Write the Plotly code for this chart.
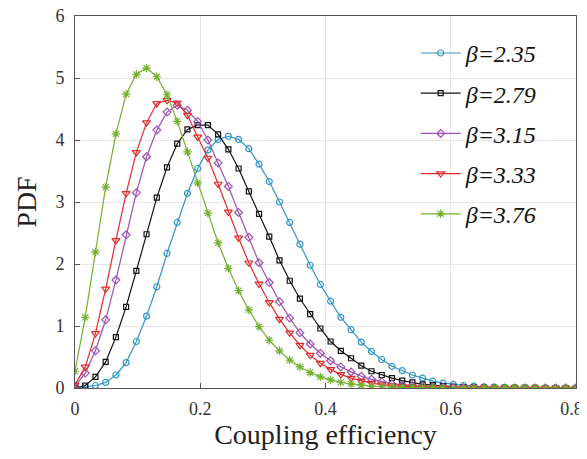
import numpy as np
import plotly.graph_objects as go

x_vals = list(np.linspace(0, 0.8, 50))

beta_labels = ["β=2.35", "β=2.79", "β=3.15", "β=3.33", "β=3.76"]

pdf_b235 = [0.0, 0.02, 0.04, 0.09, 0.21, 0.41, 0.75, 1.16, 1.63, 2.17,
            2.67, 3.14, 3.54, 3.84, 4.01, 4.06, 4.01, 3.86, 3.61, 3.33,
            3.00, 2.67, 2.32, 1.98, 1.67, 1.40, 1.14, 0.94, 0.74, 0.59,
            0.46, 0.35, 0.28, 0.21, 0.16, 0.11, 0.08, 0.06, 0.04, 0.03,
            0.02, 0.015, 0.01, 0.007, 0.005, 0.003, 0.002, 0.002, 0.001, 0.001]
pdf_b279 = [0.0, 0.04, 0.18, 0.42, 0.82, 1.31, 1.89, 2.48, 3.07, 3.56,
            3.94, 4.17, 4.24, 4.24, 4.09, 3.85, 3.54, 3.17, 2.81, 2.44,
            2.06, 1.73, 1.44, 1.19, 0.96, 0.75, 0.60, 0.48, 0.36, 0.27,
            0.21, 0.16, 0.12, 0.09, 0.06, 0.045, 0.03, 0.02, 0.014, 0.01,
            0.006, 0.004, 0.003, 0.002, 0.001, 0.001, 0.0, 0.0, 0.0, 0.0]
pdf_b315 = [0.03, 0.24, 0.60, 1.10, 1.74, 2.47, 3.15, 3.73, 4.16, 4.45,
            4.56, 4.48, 4.30, 4.00, 3.63, 3.25, 2.83, 2.43, 2.02, 1.70,
            1.39, 1.13, 0.89, 0.71, 0.56, 0.44, 0.34, 0.26, 0.19, 0.14,
            0.10, 0.07, 0.05, 0.035, 0.024, 0.016, 0.01, 0.007, 0.004, 0.003,
            0.002, 0.001, 0.001, 0.0, 0.0, 0.0, 0.0, 0.0, 0.0, 0.0]
pdf_b333 = [0.05, 0.34, 0.88, 1.60, 2.38, 3.14, 3.80, 4.28, 4.59, 4.64,
            4.60, 4.40, 4.05, 3.71, 3.29, 2.84, 2.42, 2.02, 1.68, 1.38,
            1.11, 0.89, 0.69, 0.53, 0.40, 0.30, 0.22, 0.16, 0.115, 0.08,
            0.055, 0.038, 0.025, 0.017, 0.011, 0.007, 0.005, 0.003, 0.002, 0.001,
            0.001, 0.0, 0.0, 0.0, 0.0, 0.0, 0.0, 0.0, 0.0, 0.0]
pdf_b376 = [0.27, 1.14, 2.19, 3.24, 4.10, 4.74, 5.06, 5.16, 5.02, 4.73,
            4.30, 3.81, 3.31, 2.82, 2.34, 1.93, 1.57, 1.26, 0.99, 0.77,
            0.60, 0.45, 0.34, 0.25, 0.18, 0.13, 0.09, 0.065, 0.045, 0.03,
            0.02, 0.014, 0.01, 0.006, 0.004, 0.003, 0.002, 0.001, 0.001, 0.0,
            0.0, 0.0, 0.0, 0.0, 0.0, 0.0, 0.0, 0.0, 0.0, 0.0]

series = [pdf_b235, pdf_b279, pdf_b315, pdf_b333, pdf_b376]
colors = ["#2f95c8", "#111111", "#9b4fb5", "#e02b2b", "#72b02e"]
symbols = ["circle-open", "square-open", "diamond-open", "triangle-down-open", "asterisk-open"]
sizes = [6, 5, 6, 7, 7]

x_ticks = [0, 0.2, 0.4, 0.6, 0.8]
x_ticklabels = ["0", "0.2", "0.4", "0.6", "0.8\u00a0\u00a0"]
y_ticks = [0, 1, 2, 3, 4, 5, 6]

serif = "Liberation Serif"

fig = go.Figure()
for i, (lab, ys) in enumerate(zip(beta_labels, series)):
    fig.add_trace(go.Scatter(
        x=x_vals, y=ys, mode="lines+markers", name="<i>" + lab + "</i>",
        legendgroup="g%d" % i,
        line=dict(color=colors[i], width=1.2),
        marker=dict(symbol=symbols[i], size=sizes[i], color=colors[i],
                    line=dict(color=colors[i], width=1.2)),
    ))

axis_common = dict(
    showline=True, linecolor="#555555", linewidth=1, mirror=True,
    ticks="inside", ticklen=5, tickcolor="#555555",
    showgrid=True, gridcolor="#e6e6e6", gridwidth=1,
    zeroline=False, automargin=False, ticklabeloverflow="allow",
    tickfont=dict(family=serif, size=18, color="#333333"),
)

# the page body has an 8px default margin, so the figure is sized to fit inside it
fig.update_layout(
    width=579, height=443,
    margin=dict(l=67, r=11, t=8, b=63),
    paper_bgcolor="white", plot_bgcolor="white",
    showlegend=True,
    legend=dict(
        x=0.68, y=0.96, xanchor="left", yanchor="top",
        bgcolor="rgba(255,255,255,0)", borderwidth=0,
        font=dict(family=serif, size=24, color="#111111"),
        tracegroupgap=6, itemwidth=40,
    ),
    xaxis=dict(range=[0, 0.8], tickvals=x_ticks, ticktext=x_ticklabels,
               ticklabelstandoff=4,
               title=dict(text="Coupling efficiency", font=dict(family=serif, size=28, color="#222222"), standoff=4),
               **axis_common),
    yaxis=dict(range=[0, 6], tickvals=y_ticks, ticklabelstandoff=6,
               title=dict(text="PDF", font=dict(family=serif, size=28, color="#222222"), standoff=10),
               **axis_common),
)

fig.write_html("out.html", default_width="579px", default_height="443px")
